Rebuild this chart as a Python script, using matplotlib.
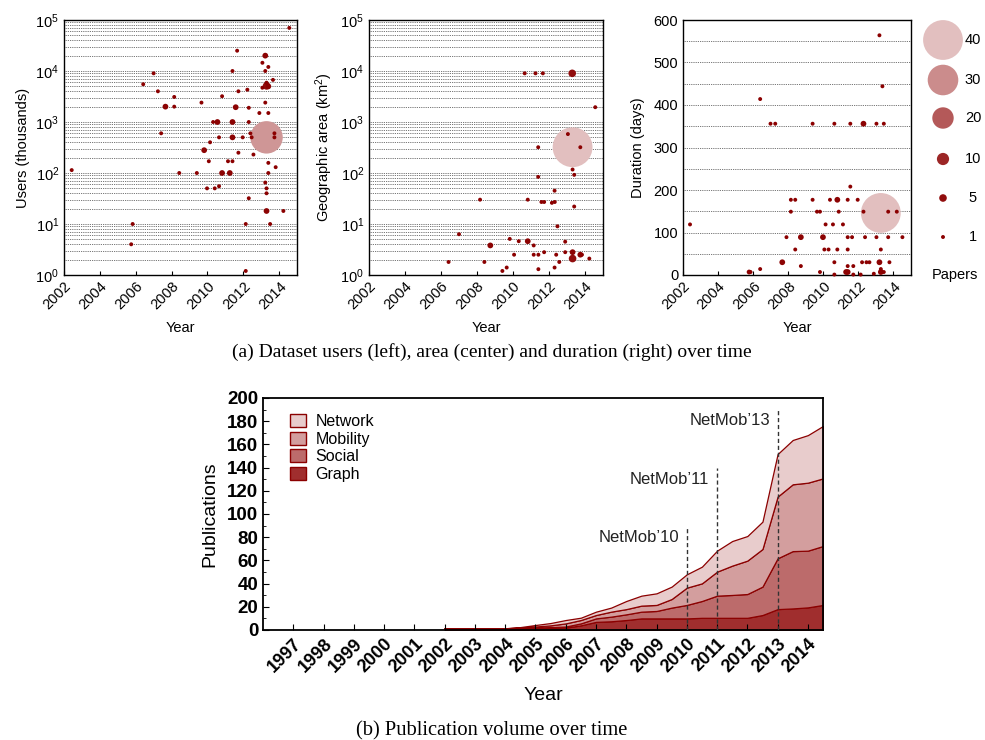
import numpy as np
import matplotlib
matplotlib.use("Agg")
import matplotlib.pyplot as plt
from matplotlib.ticker import LogLocator, MultipleLocator, NullFormatter
from matplotlib.patches import Patch

plt.rcParams['font.family'] = ['Liberation Sans', 'DejaVu Sans']
plt.rcParams['mathtext.fontset'] = 'custom'
plt.rcParams['mathtext.rm'] = 'Liberation Sans'
plt.rcParams['mathtext.it'] = 'Liberation Sans:italic'

# ---------------- Data: panel (a) left: users (thousands) ----------------
users_year = [2002.43, 2005.83, 2005.75, 2006.42, 2007.0, 2007.24, 2007.42, 2007.66, 2008.15, 2008.15,
              2008.43, 2009.41, 2009.67, 2009.82, 2009.98, 2010.08, 2010.15, 2010.32, 2010.41, 2010.56,
              2010.65, 2010.65, 2010.82, 2010.82, 2011.15, 2011.25, 2011.40, 2011.40, 2011.40, 2011.40,
              2011.58, 2011.66, 2011.73, 2011.73, 2011.97, 2012.14, 2012.14, 2012.23, 2012.31, 2012.31,
              2012.31, 2012.40, 2012.47, 2012.57, 2012.90, 2013.07, 2013.07, 2013.23, 2013.23, 2013.23,
              2013.23, 2013.30, 2013.30, 2013.30, 2013.30, 2013.30, 2013.30, 2013.40, 2013.40, 2013.40,
              2013.40, 2013.50, 2013.66, 2013.74, 2013.74, 2013.81, 2014.24, 2014.57, 2013.40]
users_val = [114, 10, 4, 5500, 9000, 4000, 600, 2000, 3100, 2000,
             100, 100, 2400, 280, 50, 170, 400, 1000, 50, 1000,
             500, 55, 3200, 100, 170, 100, 10000, 1000, 500, 170,
             1950, 25000, 4000, 250, 500, 10, 1.2, 4300, 1900, 1000,
             32, 600, 500, 230, 1500, 14500, 4700, 20000, 10000, 2400,
             65, 500, 5100, 5900, 50, 40, 18, 12000, 1500, 158,
             100, 10, 6700, 600, 500, 130, 18, 70000, 5000]
users_papers = [1, 1, 1, 1, 1, 1, 1, 3, 1, 1,
                1, 1, 1, 3, 1, 1, 1, 1, 1, 3,
                1, 1, 1, 3, 1, 3, 1, 3, 3, 1,
                3, 1, 1, 1, 1, 1, 1, 1, 1, 1,
                1, 1, 1, 1, 1, 1, 1, 3, 1, 1,
                1, 32, 5, 1, 1, 1, 3, 1, 1, 1,
                1, 1, 1, 1, 1, 1, 1, 1, 3]

# ---------------- Data: panel (a) center: area (km^2) ----------------
area_year = [2006.42, 2007.0, 2008.17, 2008.41, 2008.74, 2009.41, 2009.65, 2009.82, 2010.06, 2010.32,
             2010.65, 2010.82, 2010.82, 2011.15, 2011.15, 2011.25, 2011.40, 2011.40, 2011.41, 2011.41,
             2011.58, 2011.66, 2011.73, 2011.73, 2012.16, 2012.31, 2012.32, 2012.31, 2012.40, 2012.47,
             2012.57, 2012.90, 2012.90, 2013.05, 2013.29, 2013.31, 2013.31, 2013.31, 2013.31, 2013.40,
             2013.40, 2013.74, 2013.74, 2013.83, 2014.24, 2014.57]
area_val = [1.8, 6.3, 30, 1.8, 3.8, 1.2, 1.4, 5.1, 2.5, 4.6,
            9000, 30, 4.6, 3.8, 2.5, 9000, 320, 84, 2.5, 1.3,
            27, 9000, 27, 2.8, 26, 1.4, 27, 45, 2.5, 9,
            1.8, 4.5, 2.8, 580, 9000, 320, 117, 2.8, 2.1, 92,
            22, 320, 2.5, 2.5, 2.1, 1950]
area_papers = [1, 1, 1, 1, 3, 1, 1, 1, 1, 1,
               1, 1, 3, 1, 1, 1, 1, 1, 1, 1,
               1, 1, 1, 1, 1, 1, 1, 1, 1, 1,
               1, 1, 1, 1, 5, 40, 1, 3, 5, 1,
               1, 1, 3, 1, 1, 1]

# ---------------- Data: panel (a) right: duration (days) ----------------
dur_year = [2002.4, 2005.77, 2005.85, 2006.4, 2006.4, 2006.99, 2007.26, 2007.66, 2007.9, 2008.15,
            2008.15, 2008.4, 2008.4, 2008.72, 2008.72, 2009.39, 2009.39, 2009.64, 2009.81, 2009.81,
            2009.98, 2010.06, 2010.13, 2010.30, 2010.38, 2010.55, 2010.63, 2010.63, 2010.63, 2010.80,
            2010.80, 2010.88, 2011.12, 2011.30, 2011.39, 2011.39, 2011.39, 2011.39, 2011.39, 2011.54,
            2011.54, 2011.64, 2011.71, 2011.71, 2011.96, 2012.13, 2012.21, 2012.29, 2012.29, 2012.38,
            2012.46, 2012.63, 2012.88, 2013.03, 2013.03, 2013.20, 2013.20, 2013.28, 2013.28, 2013.28,
            2013.28, 2013.37, 2013.45, 2013.45, 2013.70, 2013.70, 2013.77, 2014.19, 2014.51]
dur_val = [119, 7, 7, 414, 14, 356, 356, 30, 89, 177,
           149, 177, 60, 89, 21, 356, 177, 149, 149, 7,
           89, 60, 119, 60, 177, 119, 356, 30, 1, 177,
           60, 149, 119, 7, 177, 89, 60, 21, 7, 208,
           356, 89, 21, 1, 177, 1, 30, 356, 149, 89,
           30, 30, 3, 356, 89, 564, 30, 146, 60, 14,
           7, 444, 356, 7, 149, 89, 30, 149, 89]
dur_papers = [1, 2, 1, 1, 1, 1, 1, 3, 1, 1,
              1, 1, 1, 3, 1, 1, 1, 1, 1, 1,
              3, 1, 1, 1, 1, 1, 1, 1, 1, 3,
              1, 1, 1, 3, 1, 1, 1, 1, 3, 1,
              1, 1, 1, 1, 1, 1, 1, 3, 1, 1,
              1, 1, 1, 1, 1, 1, 3, 40, 1, 1,
              3, 1, 1, 1, 1, 1, 1, 1, 1]

legend_papers = [40, 30, 20, 10, 5, 1]

# ---------------- Data: panel (b) publications ----------------
pub_years = [2002, 2002.5, 2003, 2003.5, 2004, 2004.5, 2005, 2005.5, 2006, 2006.5,
             2007, 2007.5, 2008, 2008.5, 2009, 2009.5, 2010, 2010.5, 2011, 2011.5,
             2012, 2012.5, 2013, 2013.5, 2014, 2014.5]
pub_graph = [1.5, 1.5, 1.5, 1.5, 1.5, 1.5, 1.7, 1.8, 2.0, 4.0,
             7.0, 7.5, 8.6, 10.0, 10.0, 10.0, 10.0, 10.5, 10.5, 10.5,
             10.5, 12.9, 18.0, 18.6, 19.5, 21.6]
pub_social = [0, 0, 0, 0, 0, 0.2, 0.5, 0.7, 1.0, 1.7,
              3.0, 4.0, 4.9, 5.8, 6.4, 9.3, 11.6, 14.5, 19.1, 19.7,
              20.5, 24.5, 43.8, 49.4, 48.9, 50.8]
pub_mobility = [0, 0, 0, 0, 0, 0.3, 0.8, 1.5, 2.7, 2.9,
                2.9, 4.3, 4.5, 5.2, 5.2, 7.4, 14.9, 15.2, 20.7, 25.3,
                28.8, 32.4, 53.2, 57.6, 58.6, 58.3]
pub_network = [0, 0, 0, 0, 0, 0.5, 1.3, 2.0, 2.9, 2.0,
               2.9, 3.5, 7.0, 8.6, 10.0, 10.7, 11.5, 14.4, 18.1, 21.2,
               21.2, 23.6, 36.7, 38.2, 41.0, 45.2]
pub_tick_years = list(range(1997, 2015))
netmob_years = [2010, 2011, 2013]
netmob_labels = ["NetMob\u201910", "NetMob\u201911", "NetMob\u201913"]
netmob_tops = [90, 140, 190]
netmob_text_y = [80, 130, 181]

# ---------------- Styling helpers ----------------
BASE = np.array([139, 0, 0]) / 255.0


def paper_color(n):
    a = float(np.clip(1.05 - 0.02 * n, 0.2, 1.0))
    return tuple(1 - a * (1 - BASE))


def paper_size(n):
    r_px = 1.5 + 0.46 * n
    return (2 * r_px * 0.72) ** 2


def draw_scatter(ax, xs, ys, ns):
    order = np.argsort(-np.array(ns), kind='stable')
    for z, i in enumerate(order):
        ax.scatter(xs[i], ys[i], s=paper_size(ns[i]), color=paper_color(ns[i]),
                   edgecolors='none', zorder=3 + z * 0.001, clip_on=False)


W, H = 985, 740
fig = plt.figure(figsize=(W / 100, H / 100), dpi=100)


def ax_px(l, t, r, b):
    return fig.add_axes([l / W, 1 - b / H, (r - l) / W, (b - t) / H])


grid_kw = dict(color='#444444', linestyle=(0, (1, 1.2)), linewidth=0.6)
tick_fs = 10.5
lab_fs = 10.5


def style_top(ax):
    ax.set_xlim(2002, 2015)
    ax.set_xticks(range(2002, 2015, 2))
    ax.tick_params(axis='x', direction='in', length=3, labelsize=tick_fs, pad=3)
    ax.tick_params(axis='y', which='both', direction='in', labelsize=tick_fs)
    for lbl in ax.get_xticklabels():
        lbl.set_rotation(45)
        lbl.set_ha('right')
        lbl.set_rotation_mode('anchor')
    ax.set_xlabel('Year', fontsize=lab_fs, labelpad=6)
    for sp in ax.spines.values():
        sp.set_linewidth(1.0)


def style_log(ax):
    ax.set_yscale('log')
    ax.set_ylim(1, 1e5)
    ax.yaxis.set_major_locator(LogLocator(base=10, numticks=10))
    ax.yaxis.set_minor_locator(LogLocator(base=10, subs=np.arange(2, 10), numticks=20))
    ax.yaxis.set_minor_formatter(NullFormatter())
    ax.tick_params(axis='y', which='minor', length=0)
    ax.tick_params(axis='y', which='major', length=0)
    ax.grid(True, axis='y', which='both', **grid_kw)
    ax.set_axisbelow(True)


# Panel 1
ax1 = ax_px(64, 20, 297, 275)
style_log(ax1)
style_top(ax1)
draw_scatter(ax1, users_year, users_val, users_papers)
ax1.set_ylabel('Users (thousands)', fontsize=lab_fs, labelpad=4)

# Panel 2
ax2 = ax_px(369, 20, 603, 275)
style_log(ax2)
style_top(ax2)
draw_scatter(ax2, area_year, area_val, area_papers)
ax2.set_ylabel('Geographic area (km$^2$)', fontsize=lab_fs, labelpad=4)

# Panel 3
ax3 = ax_px(683, 20, 911, 275)
ax3.set_ylim(0, 600)
ax3.yaxis.set_major_locator(MultipleLocator(100))
ax3.set_yticks(range(50, 600, 50), minor=True)
ax3.tick_params(axis='y', which='both', length=0)
ax3.grid(True, axis='y', which='both', **grid_kw)
ax3.set_axisbelow(True)
style_top(ax3)
draw_scatter(ax3, dur_year, dur_val, dur_papers)
ax3.set_ylabel('Duration (days)', fontsize=lab_fs, labelpad=6)

# Size legend
axl = ax_px(918, 20, 985, 290)
axl.set_xlim(0, 67)
axl.set_ylim(270, 0)
axl.axis('off')
leg_y = [20, 60, 98, 139, 178, 217]
for n, yy in zip(legend_papers, leg_y):
    axl.scatter(25, yy, s=paper_size(n), color=paper_color(n), edgecolors='none', clip_on=False)
    axl.text(55, yy, str(n), ha='center', va='center', fontsize=tick_fs)
axl.text(37, 255, 'Papers', ha='center', va='center', fontsize=tick_fs)

fig.text(492 / W, 1 - 352 / H,
         '(a) Dataset users (left), area (center) and duration (right) over time',
         ha='center', va='center', fontsize=14, family=['Liberation Serif'])

# ---------------- Panel (b) ----------------
axb = ax_px(263, 398, 823, 630)
cols = [tuple(1 - a * (1 - BASE)) for a in (0.82, 0.58, 0.38, 0.2)]
axb.stackplot(pub_years, pub_graph, pub_social, pub_mobility, pub_network,
              colors=cols, edgecolor='#8b0000', linewidth=0.9)
axb.set_xlim(1996, 2014.5)
axb.set_ylim(0, 200)
axb.set_xticks(pub_tick_years)
axb.set_xticklabels([str(y) for y in pub_tick_years], rotation=45, ha='right',
                    rotation_mode='anchor', fontsize=13, fontweight='bold')
axb.yaxis.set_major_locator(MultipleLocator(20))
axb.yaxis.set_minor_locator(MultipleLocator(10))
axb.tick_params(axis='y', which='major', direction='in', length=4, labelsize=13.5)
axb.tick_params(axis='y', which='minor', direction='in', length=2.5)
axb.tick_params(axis='x', direction='in', length=4, pad=4)
for lbl in axb.get_yticklabels():
    lbl.set_fontweight('bold')
for sp in axb.spines.values():
    sp.set_linewidth(1.3)
axb.set_xlabel('Year', fontsize=14, labelpad=8)
axb.set_ylabel('Publications', fontsize=14, labelpad=6)

for yr, lab, top, ty in zip(netmob_years, netmob_labels, netmob_tops, netmob_text_y):
    axb.plot([yr, yr], [0, top], linestyle=(0, (3, 2)), color='#333333', linewidth=1.0, zorder=5)
    axb.text(yr - 0.25, ty, lab, ha='right', va='center', fontsize=12, color='#222222')

handles = [Patch(facecolor=c, edgecolor='#8b0000', linewidth=1.0) for c in cols[::-1]]
axb.legend(handles, ['Network', 'Mobility', 'Social', 'Graph'], loc='upper left',
           frameon=False, fontsize=11.5, handlelength=1.0, handleheight=0.9,
           handletextpad=0.6, labelspacing=0.15, borderaxespad=0.6,
           bbox_to_anchor=(0.02, 1.0))

fig.text(492 / W, 1 - 731 / H, '(b) Publication volume over time',
         ha='center', va='center', fontsize=14.8, family=['Liberation Serif'])

fig.savefig('out.png', dpi=100)
